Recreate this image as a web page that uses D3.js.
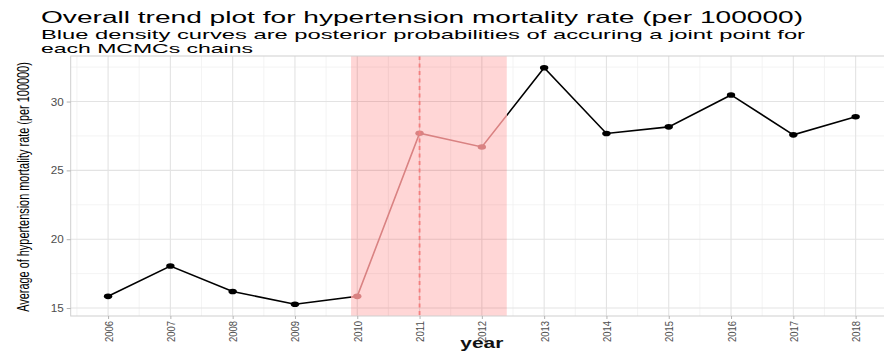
<!DOCTYPE html>
<html>
<head>
<meta charset="utf-8">
<script src="https://cdn.jsdelivr.net/npm/d3@7"></script>
<style>
  body { margin: 0; background: #fff; }
  text { font-family: "Liberation Sans", Arial, sans-serif; }
</style>
</head>
<body>
<div id="main"></div>
<script>
// data
var years = [2006, 2007, 2008, 2009, 2010, 2011, 2012, 2013, 2014, 2015, 2016, 2017, 2018];
var rates = [15.85, 18.05, 16.2, 15.28, 15.85, 27.7, 26.7, 32.45, 27.68, 28.16, 30.48, 27.58, 28.9];
var yTicks = [15, 20, 25, 30];
var jointRegion = [2009.9, 2012.4];
var jointPoint = 2011;

var titleText = "Overall trend plot for  hypertension mortality rate (per 100000)";
var subtitleLines = ["Blue density curves are posterior probabilities of accuring a joint point for",
                     "each MCMCs chains"];
var yTitle = "Average of  hypertension mortality rate (per 100000)";
var xTitle = "year";

var width = 884, height = 353;
var pLeft = 70.7, pRight = 893, pTop = 56, pBottom = 316;

var svg = d3.select("#main").append("svg")
  .attr("width", width).attr("height", height);

var xPad = (d3.max(years) - d3.min(years)) * 0.05;
var x = d3.scaleLinear()
  .domain([d3.min(years) - xPad, d3.max(years) + xPad])
  .range([pLeft, pRight]);
var yMin = d3.min(rates), yMax = d3.max(rates), yPad = (yMax - yMin) * 0.05;
var y = d3.scaleLinear()
  .domain([yMin - yPad, yMax + yPad])
  .range([pBottom, pTop]);

// titles (the reference is stretched sideways, so texts get a fixed length)
svg.append("text").attr("x", 41).attr("y", 23)
  .attr("font-size", 16.5).attr("fill", "#000")
  .attr("textLength", 762).attr("lengthAdjust", "spacingAndGlyphs")
  .text(titleText);
var subLens = [764, 212];
subtitleLines.forEach(function (s, i) {
  svg.append("text").attr("x", 41).attr("y", 38.5 + i * 14)
    .attr("font-size", 13).attr("fill", "#000")
    .attr("textLength", subLens[i]).attr("lengthAdjust", "spacingAndGlyphs")
    .text(s);
});

var plot = svg.append("g");

// minor grid
var minorY = d3.range(yTicks.length - 1).map(function (i) { return (yTicks[i] + yTicks[i + 1]) / 2; });
minorY.push(yTicks[yTicks.length - 1] + 2.5);
var minorX = d3.range(years.length - 1).map(function (i) { return years[i] + 0.5; });
minorX.push(years[0] - 0.5);

plot.selectAll(".minorY").data(minorY).enter().append("line")
  .attr("x1", pLeft).attr("x2", pRight)
  .attr("y1", function (d) { return y(d); }).attr("y2", function (d) { return y(d); })
  .attr("stroke", "#f0f0f0").attr("stroke-width", 0.8);
plot.selectAll(".minorX").data(minorX).enter().append("line")
  .attr("y1", pTop).attr("y2", pBottom)
  .attr("x1", function (d) { return x(d); }).attr("x2", function (d) { return x(d); })
  .attr("stroke", "#f0f0f0").attr("stroke-width", 0.8);

// major grid
plot.selectAll(".majorY").data(yTicks).enter().append("line")
  .attr("x1", pLeft).attr("x2", pRight)
  .attr("y1", function (d) { return y(d); }).attr("y2", function (d) { return y(d); })
  .attr("stroke", "#e3e3e3").attr("stroke-width", 1.1);
plot.selectAll(".majorX").data(years).enter().append("line")
  .attr("y1", pTop).attr("y2", pBottom)
  .attr("x1", function (d) { return x(d); }).attr("x2", function (d) { return x(d); })
  .attr("stroke", "#e3e3e3").attr("stroke-width", 1.1);

// joint point region
var rx0 = x(jointRegion[0]), rx1 = x(jointRegion[1]);
plot.append("rect")
  .attr("x", rx0).attr("y", pTop)
  .attr("width", rx1 - rx0).attr("height", pBottom - pTop)
  .attr("fill", "#ff0000").attr("fill-opacity", 0.16);

var defs = svg.append("defs");
defs.append("clipPath").attr("id", "inClip")
  .append("rect").attr("x", rx0).attr("y", 0).attr("width", rx1 - rx0).attr("height", height);
var outClip = defs.append("clipPath").attr("id", "outClip");
outClip.append("rect").attr("x", 0).attr("y", 0).attr("width", rx0).attr("height", height);
outClip.append("rect").attr("x", rx1).attr("y", 0).attr("width", width - rx1).attr("height", height);

var pts = years.map(function (d, i) { return [d, rates[i]]; });
var line = d3.line().x(function (d) { return x(d[0]); }).y(function (d) { return y(d[1]); });

function drawSeries(g, colour) {
  g.append("path").datum(pts).attr("d", line)
    .attr("fill", "none").attr("stroke", colour).attr("stroke-width", 1.6);
  g.selectAll("ellipse").data(pts).enter().append("ellipse")
    .attr("cx", function (d) { return x(d[0]); })
    .attr("cy", function (d) { return y(d[1]); })
    .attr("rx", 4.2).attr("ry", 2.8)
    .attr("fill", colour);
}
drawSeries(plot.append("g").attr("clip-path", "url(#outClip)"), "#000");
drawSeries(plot.append("g").attr("clip-path", "url(#inClip)"), "#d98282");

// dashed line at the joint point
plot.append("line")
  .attr("x1", x(jointPoint)).attr("x2", x(jointPoint))
  .attr("y1", pTop).attr("y2", pBottom)
  .attr("stroke", "#f47f7f").attr("stroke-width", 1.8)
  .attr("stroke-dasharray", "4,3.5");

// panel border
plot.append("rect").attr("x", pLeft).attr("y", pTop)
  .attr("width", pRight - pLeft).attr("height", pBottom - pTop)
  .attr("fill", "none").attr("stroke", "#cfcfcf").attr("stroke-width", 1);

// axes
var yAxis = svg.append("g").attr("transform", "translate(" + pLeft + ",0)")
  .call(d3.axisLeft(y).tickValues(yTicks).tickSize(4).tickPadding(3));
yAxis.select(".domain").remove();
yAxis.selectAll(".tick line").attr("stroke", "#b3b3b3");
yAxis.selectAll(".tick text").attr("fill", "#4d4d4d").attr("font-size", 11)
  .attr("font-family", "Liberation Sans, Arial, sans-serif")
  .attr("textLength", 13).attr("lengthAdjust", "spacingAndGlyphs");

var xAxis = svg.append("g").attr("transform", "translate(0," + pBottom + ")")
  .call(d3.axisBottom(x).tickValues(years).tickFormat(d3.format("d")).tickSize(3).tickPadding(3));
xAxis.select(".domain").remove();
xAxis.selectAll(".tick line").attr("stroke", "#b3b3b3");
xAxis.selectAll(".tick text")
  .attr("fill", "#4d4d4d").attr("font-size", 11.5)
  .attr("font-family", "Liberation Sans, Arial, sans-serif")
  .attr("text-anchor", "end")
  .attr("transform", "rotate(-90)")
  .attr("x", -5).attr("y", 0).attr("dy", "0.35em")
  .attr("textLength", 21).attr("lengthAdjust", "spacingAndGlyphs");

// axis titles: the y title is squeezed along its length with a scale
var yLab = svg.append("text")
  .attr("text-anchor", "middle").attr("font-size", 17).attr("fill", "#000")
  .text(yTitle);
var squeeze = 250 / yLab.node().getComputedTextLength();
yLab.attr("transform", "translate(29," + ((pTop + pBottom) / 2 + 1) + ") rotate(-90) scale(" + squeeze + ",1)");

svg.append("text")
  .attr("x", (pLeft + pRight) / 2).attr("y", 348)
  .attr("text-anchor", "middle").attr("font-size", 14).attr("font-weight", "bold").attr("fill", "#111")
  .attr("textLength", 43).attr("lengthAdjust", "spacingAndGlyphs")
  .text(xTitle);
</script>
</body>
</html>
